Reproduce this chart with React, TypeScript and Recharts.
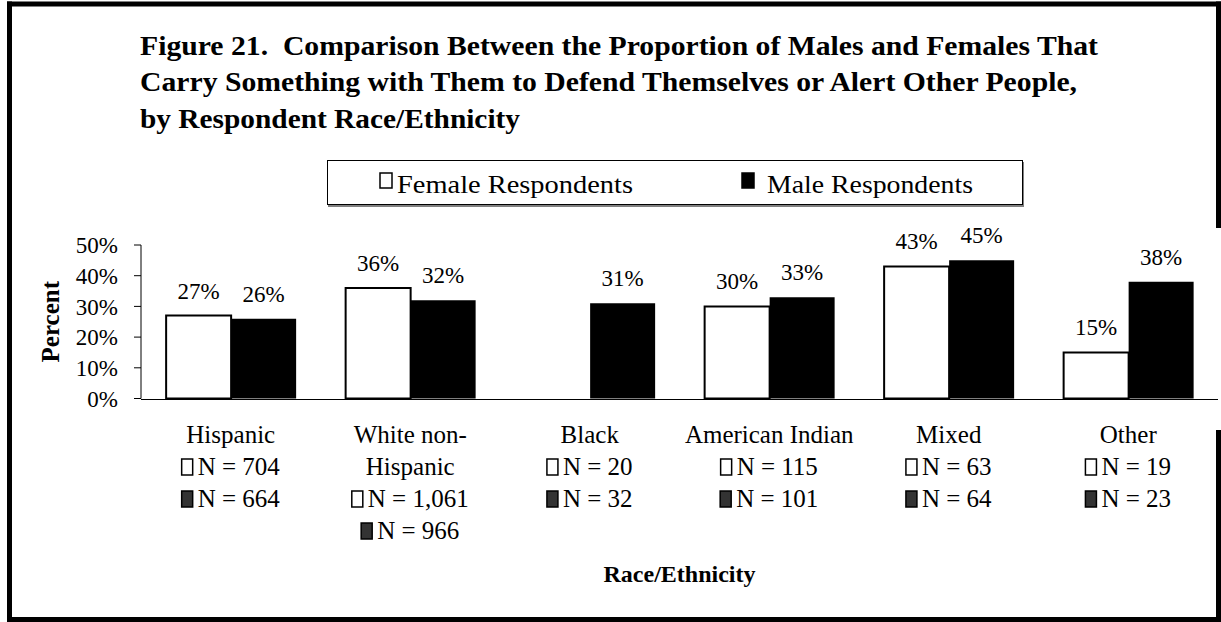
import { BarChart, Bar, XAxis, YAxis, LabelList, Label, Legend } from 'recharts'

const FONT = "'Liberation Serif', 'Times New Roman', Times, serif"

// data
const categories = ['Hispanic', 'White non-Hispanic', 'Black', 'American Indian', 'Mixed', 'Other']
const categoryLines = [['Hispanic'], ['White non-', 'Hispanic'], ['Black'], ['American Indian'], ['Mixed'], ['Other']]
const femalePct = [27, 36, null, 30, 43, 15]
const malePct = [26, 32, 31, 33, 45, 38]
const femaleN = ['704', '1,061', '20', '115', '63', '19']
const maleN = ['664', '966', '32', '101', '64', '23']
const yTicks = [0, 10, 20, 30, 40, 50]
const groupEdges = [0, 1, 2, 3, 4, 5, 6]

const titleLines = [
  'Figure 21.\u00a0 Comparison Between the Proportion of Males and Females That',
  'Carry Something with Them to Defend Themselves or Alert Other People,',
  'by Respondent Race/Ethnicity',
]
const titleWidths = [958, 937, 380]

const data = categories.map((name, i) => ({ name, female: femalePct[i], male: malePct[i] }))

let ctx: CanvasRenderingContext2D | null = null
function textWidth(s: string, font: string) {
  if (!ctx) ctx = document.createElement('canvas').getContext('2d')
  if (!ctx) return s.length * 11
  ctx.font = font
  return ctx.measureText(s).width
}

function CategoryTick(props: any) {
  const { x, y, payload } = props
  const i = categories.indexOf(payload.value)
  if (i < 0) return null
  const lines = categoryLines[i]
  const rows: any[] = []
  lines.forEach((l, k) => {
    rows.push(
      <text key={'t' + k} x={x} y={y + 44.5 + k * 32} textAnchor="middle">
        {l}
      </text>
    )
  })
  const nRows = [
    { n: femaleN[i], fill: '#fff' },
    { n: maleN[i], fill: '#333' },
  ]
  nRows.forEach((r, k) => {
    const base = y + 44.5 + (lines.length + k) * 32
    const label = `N = ${r.n}`
    const w = textWidth(label, `25px ${FONT}`)
    const left = x - (11 + 5 + w) / 2
    rows.push(
      <g key={'n' + k}>
        <rect x={left} y={base - 16} width={11} height={16} fill={r.fill} stroke="#000" strokeWidth={1.5} />
        <text x={left + 16} y={base}>{label}</text>
      </g>
    )
  })
  return (
    <g fontFamily={FONT} fontSize={25} fill="#000">
      {rows}
    </g>
  )
}

const renderLegend = () => (
  <div
    style={{
      width: 696,
      height: 45,
      border: '1px solid #000',
      boxShadow: '1px 2px 0 #808080',
      boxSizing: 'border-box',
      background: '#fff',
    }}
  >
    <svg width={694} height={43} style={{ display: 'block' }} fontFamily={FONT} fontSize={26}>
      <rect x={52} y={12} width={12} height={15} fill="#fff" stroke="#000" strokeWidth={1.5} />
      <text x={69} y={32} textLength={236} lengthAdjust="spacingAndGlyphs">Female Respondents</text>
      <rect x={414} y={12} width={12} height={15} fill="#000" stroke="#000" strokeWidth={1.5} />
      <text x={439} y={32} textLength={206} lengthAdjust="spacingAndGlyphs">Male Respondents</text>
    </svg>
  </div>
)

export default function App() {
  return (
    <div style={{ position: 'absolute', left: 0, top: 0, width: 1221, height: 622, background: '#fff' }}>
      <BarChart
        width={1221}
        height={622}
        data={data}
        margin={{ top: 245, right: 3, bottom: 221.5, left: 0 }}
        barCategoryGap="14%"
        barGap={0}
      >
        <XAxis
          xAxisId="grid"
          type="number"
          domain={[0, 6]}
          ticks={groupEdges}
          allowDataOverflow
          interval={0}
          height={1}
          tick={false}
          tickSize={7}
          axisLine={{ stroke: '#000', strokeWidth: 1 }}
          tickLine={{ stroke: '#000', strokeWidth: 1 }}
        />
        <XAxis
          xAxisId="cat"
          dataKey="name"
          height={1}
          interval={0}
          axisLine={false}
          tickLine={false}
          tickSize={0}
          tickMargin={0}
          tick={<CategoryTick />}
        >
          <Label
            content={(p: any) => {
              const vb = p.viewBox || { x: 141, y: 399.5, width: 1077 }
              return (
                <text
                  x={vb.x + vb.width / 2}
                  y={vb.y + 183.5}
                  textAnchor="middle"
                  fontFamily={FONT}
                  fontWeight="bold"
                  fontSize={24}
                  fill="#000"
                >
                  Race/Ethnicity
                </text>
              )
            }}
          />
        </XAxis>
        <YAxis
          width={141}
          domain={[0, 50]}
          ticks={yTicks}
          interval={0}
          tickFormatter={(v) => `${v}%`}
          tickSize={7}
          tickMargin={16}
          axisLine={{ stroke: '#000' }}
          tickLine={{ stroke: '#000' }}
          tick={{ fill: '#000', fontSize: 23, fontFamily: FONT }}
        >
          <Label
            content={(p: any) => {
              const vb = p.viewBox || { y: 245, height: 153.5 }
              const cx = 50
              const cy = vb.y + vb.height / 2
              return (
                <text
                  x={cx}
                  y={cy}
                  transform={`rotate(-90 ${cx} ${cy})`}
                  textAnchor="middle"
                  dominantBaseline="central"
                  fontFamily={FONT}
                  fontWeight="bold"
                  fontSize={25}
                  fill="#000"
                >
                  Percent
                </text>
              )
            }}
          />
        </YAxis>
        <Legend
          layout="horizontal"
          verticalAlign="middle"
          align="center"
          content={renderLegend}
          wrapperStyle={{ left: 327, top: 160, width: 696, height: 45 }}
        />
        <Bar xAxisId="cat" dataKey="female" name="Female Respondents" fill="#fff" stroke="#000" strokeWidth={2} isAnimationActive={false}>
          <LabelList
            dataKey="female"
            position="top"
            offset={17}
            formatter={(v: any) => (v == null ? '' : `${v}%`)}
            fill="#000"
            fontSize={23}
            fontFamily={FONT}
          />
        </Bar>
        <Bar xAxisId="cat" dataKey="male" name="Male Respondents" fill="#000" isAnimationActive={false}>
          <LabelList
            dataKey="male"
            position="top"
            offset={17}
            formatter={(v: any) => (v == null ? '' : `${v}%`)}
            fill="#000"
            fontSize={23}
            fontFamily={FONT}
          />
        </Bar>
      </BarChart>
      <svg
        width={1221}
        height={622}
        style={{ position: 'absolute', left: 0, top: 0, pointerEvents: 'none' }}
        fontFamily={FONT}
      >
        {titleLines.map((t, i) => (
          <text
            key={i}
            x={140}
            y={54.5 + i * 36.5}
            fontWeight="bold"
            fontSize={27}
            fill="#000"
            textLength={titleWidths[i]}
            lengthAdjust="spacingAndGlyphs"
          >
            {t}
          </text>
        ))}
        <g stroke="#000" strokeWidth={5}>
          <line x1={9.5} y1={1.5} x2={9.5} y2={622} />
          <line x1={7} y1={4} x2={1221} y2={4} />
          <line x1={7} y1={619.5} x2={1221} y2={619.5} />
          <line x1={1218.5} y1={1.5} x2={1218.5} y2={228} />
          <line x1={1218.5} y1={430} x2={1218.5} y2={622} />
        </g>
      </svg>
    </div>
  )
}
